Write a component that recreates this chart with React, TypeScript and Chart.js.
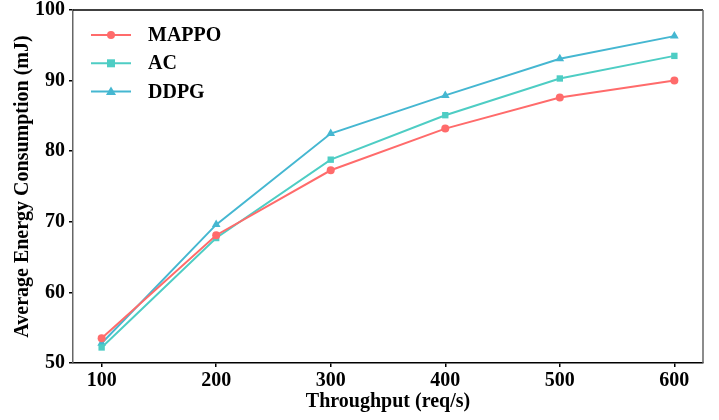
import React, { useEffect, useRef } from "react";
import { Chart, registerables } from "chart.js";

Chart.register(...registerables);

const throughput = [100, 200, 300, 400, 500, 600];
const mappo = [53.5, 68.1, 77.3, 83.2, 87.6, 90.0];
const ac = [52.2, 67.7, 78.8, 85.1, 90.3, 93.5];
const ddpg = [52.8, 69.6, 82.5, 87.9, 93.1, 96.3];
const seriesNames = ["MAPPO", "AC", "DDPG"];
const seriesColors = ["#FF6B6B", "#4ECDC4", "#45B7D1"];
const seriesMarkers = ["circle", "rect", "triangle"];
const yTicks = [50, 60, 70, 80, 90, 100];

const FONT = "'Liberation Serif', 'Times New Roman', serif";

const framePlugin = {
  id: "frame",
  afterDraw(chart: any) {
    const { ctx, chartArea } = chart;
    const { left, right, top, bottom } = chartArea;
    ctx.save();
    ctx.lineWidth = 1.5;
    ctx.strokeStyle = "#000";
    ctx.beginPath();
    ctx.moveTo(left, top);
    ctx.lineTo(right, top);
    ctx.stroke();
    ctx.strokeStyle = "#666";
    ctx.beginPath();
    ctx.moveTo(right, top);
    ctx.lineTo(right, bottom);
    ctx.stroke();
    // legend
    const x0 = left + 18;
    const y0 = top + 25;
    const gap = 28.3;
    chart.data.datasets.forEach((ds: any, i: number) => {
      const y = y0 + i * gap;
      ctx.strokeStyle = ds.borderColor;
      ctx.lineWidth = 2;
      ctx.beginPath();
      ctx.moveTo(x0, y);
      ctx.lineTo(x0 + 40, y);
      ctx.stroke();
      ctx.fillStyle = ds.backgroundColor;
      const cx = x0 + 20;
      const m = ds.pointStyle;
      ctx.beginPath();
      if (m === "circle") {
        ctx.arc(cx, y, 4, 0, Math.PI * 2);
      } else if (m === "rect") {
        ctx.rect(cx - 4, y - 4, 8, 8);
      } else {
        ctx.moveTo(cx, y - 5);
        ctx.lineTo(cx + 5, y + 3.5);
        ctx.lineTo(cx - 5, y + 3.5);
        ctx.closePath();
      }
      ctx.fill();
      ctx.fillStyle = "#000";
      ctx.font = `bold 20px ${FONT}`;
      ctx.textBaseline = "middle";
      ctx.textAlign = "left";
      ctx.fillText(ds.label, x0 + 57, y + 1);
    });
    ctx.restore();
  },
};

export default function App() {
  const ref = useRef<HTMLCanvasElement>(null);
  useEffect(() => {
    document.body.style.margin = "0";
    const seriesValues = [mappo, ac, ddpg];
    const chart = new Chart(ref.current as HTMLCanvasElement, {
      type: "line",
      data: {
        datasets: seriesNames.map((name, i) => ({
          label: name,
          data: throughput.map((x, j) => ({ x, y: seriesValues[i][j] })),
          borderColor: seriesColors[i],
          backgroundColor: seriesColors[i],
          pointBackgroundColor: seriesColors[i],
          pointBorderColor: seriesColors[i],
          pointStyle: seriesMarkers[i] as any,
          pointRadius: seriesMarkers[i] === "triangle" ? 5 : seriesMarkers[i] === "rect" ? 4.5 : 4,
          pointBorderWidth: 0,
          borderWidth: 2,
          tension: 0,
        })),
      },
      plugins: [framePlugin],
      options: {
        responsive: false,
        animation: false,
        layout: { padding: { top: 10, right: 16, left: 0, bottom: 0 } },
        plugins: { legend: { display: false }, tooltip: { enabled: false } },
        scales: {
          x: {
            type: "linear",
            min: 75,
            max: 625,
            afterBuildTicks: (s: any) => {
              s.ticks = throughput.map((v) => ({ value: v }));
            },
            afterFit: (s: any) => {
              s.height = 57;
              s.paddingLeft = 0;
              s.paddingRight = 0;
            },
            grid: { display: true, drawOnChartArea: false, tickLength: 4, color: "#000", lineWidth: 1.5 },
            border: { display: true, color: "#000", width: 1.5 },
            ticks: { color: "#000", font: { family: FONT, size: 20, weight: "bold" }, padding: 2 },
            title: {
              display: true,
              text: "Throughput (req/s)",
              color: "#000",
              font: { family: FONT, size: 20, weight: "bold" },
              padding: { top: 0, bottom: 6 },
            },
          },
          y: {
            min: 50,
            max: 100,
            afterBuildTicks: (s: any) => {
              s.ticks = yTicks.map((v) => ({ value: v }));
            },
            afterFit: (s: any) => {
              s.width = 73;
              s.paddingTop = 0;
              s.paddingBottom = 0;
            },
            grid: { display: true, drawOnChartArea: false, tickLength: 4, color: "#000", lineWidth: 1.5 },
            border: { display: true, color: "#666", width: 1.5 },
            ticks: { color: "#000", font: { family: FONT, size: 20, weight: "bold" }, padding: 4 },
            title: {
              display: true,
              text: "Average Energy Consumption (mJ)",
              color: "#000",
              font: { family: FONT, size: 20, weight: "bold" },
              padding: { top: 11, bottom: 0 },
            },
          },
        },
      },
    });
    return () => chart.destroy();
  }, []);
  return <canvas ref={ref} width={719} height={420} style={{ display: "block" }} />;
}
